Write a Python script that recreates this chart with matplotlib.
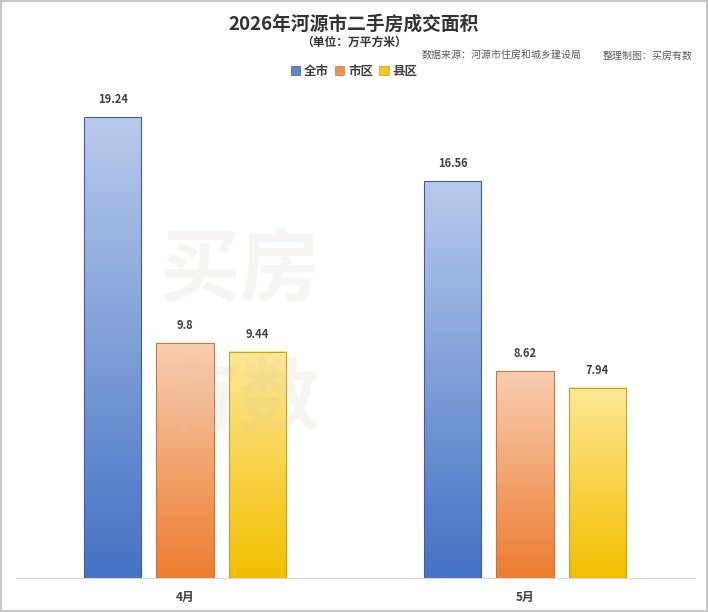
import matplotlib
matplotlib.use('Agg')
import matplotlib.pyplot as plt
import numpy as np
from matplotlib.colors import LinearSegmentedColormap
from matplotlib.patches import Patch, Rectangle

plt.rcParams['font.family'] = ['Noto Sans CJK SC', 'DejaVu Sans']

# data
months = ['4月', '5月']
series = ['全市', '市区', '县区']
values = {
    '全市': [19.24, 16.56],
    '市区': [9.8, 8.62],
    '县区': [9.44, 7.94],
}

# top (light) / bottom (strong) gradient colours, edge colour
colors = {
    '全市': ('#b8caec', '#4472c4', '#3a5fa8'),
    '市区': ('#f8cdb0', '#ed7d31', '#c9773f'),
    '县区': ('#ffe796', '#f2bf00', '#c9a21a'),
}

fig = plt.figure(figsize=(7.08, 6.12), dpi=100)
ax = fig.add_axes([16/708, 34/612, 679/708, 478/612])

x = np.arange(len(months))
offsets = [-0.212, 0.0, 0.212]
width = 0.168

for s, off in zip(series, offsets):
    top_c, bot_c, edge_c = colors[s]
    cmap = LinearSegmentedColormap.from_list(s, [bot_c, top_c])
    for xi, v in zip(x, values[s]):
        x0 = xi + off - width / 2
        grad = np.linspace(1, 0, 100).reshape(-1, 1)
        ax.imshow(grad, cmap=cmap, extent=(x0, x0 + width, 0, v),
                  aspect='auto', zorder=2, interpolation='bicubic')
        ax.bar(xi + off, v, width, facecolor='none', edgecolor=edge_c,
               linewidth=0.8, zorder=3)
        ax.annotate(f'{v:g}', (xi + off, v), xytext=(0, 8),
                    textcoords='offset points', ha='center', va='bottom',
                    fontsize=8, fontweight='bold', color='#404040', zorder=6)

ax.set_xlim(-0.497, 1.5)
ax.set_ylim(0, 19.95)
ax.set_xticks(x)
ax.set_xticklabels(months, fontsize=8.5, fontweight='bold', color='#404040')
ax.tick_params(axis='x', length=0, pad=9)
ax.set_yticks([])
for sp in ['top', 'left', 'right']:
    ax.spines[sp].set_visible(False)
ax.spines['bottom'].set_color('#d9d9d9')
ax.patch.set_alpha(0)

# faint watermark, kept clear of the value labels
ax.text(240/708, 1 - 272/612, '买房', transform=fig.transFigure, ha='center', va='center',
        fontsize=58, fontweight='bold', color='#d8c8b8', alpha=0.18, zorder=4)
ax.text(240/708, 1 - 402/612, '有数', transform=fig.transFigure, ha='center', va='center',
        fontsize=58, fontweight='bold', color='#d8c8b8', alpha=0.18, zorder=4)

# titles
fig.text(0.5, 1 - 24/612, '2026年河源市二手房成交面积', ha='center', va='center',
         fontsize=13.5, fontweight='bold', color='#333333')
fig.text(0.5, 1 - 42/612, '（单位：万平方米）', ha='center', va='center',
         fontsize=8.5, fontweight='bold', color='#333333')
fig.text(422/708, 1 - 56/612, '数据来源：河源市住房和城乡建设局', ha='left', va='center',
         fontsize=7.2, color='#595959')
fig.text(603/708, 1 - 56/612, '整理制图：买房有数', ha='left', va='center',
         fontsize=7.2, color='#595959')

handles = [Patch(facecolor=colors[s][1], edgecolor=colors[s][2], linewidth=0.6, alpha=0.85)
           for s in series]
fig.legend(handles, series, loc='center', bbox_to_anchor=(0.5, 1 - 71/612), ncol=3,
           frameon=False, handlelength=0.75, handleheight=0.75, handletextpad=0.3,
           columnspacing=0.5, prop={'size': 9, 'weight': 'bold'}, labelcolor='#404040')

# outer frame
fig.patches.append(Rectangle((0.001, 0.001), 0.997, 0.997, transform=fig.transFigure,
                             fill=False, edgecolor='#c8c8c8', linewidth=1.5))

fig.savefig('out.png', dpi=100, facecolor='white')
